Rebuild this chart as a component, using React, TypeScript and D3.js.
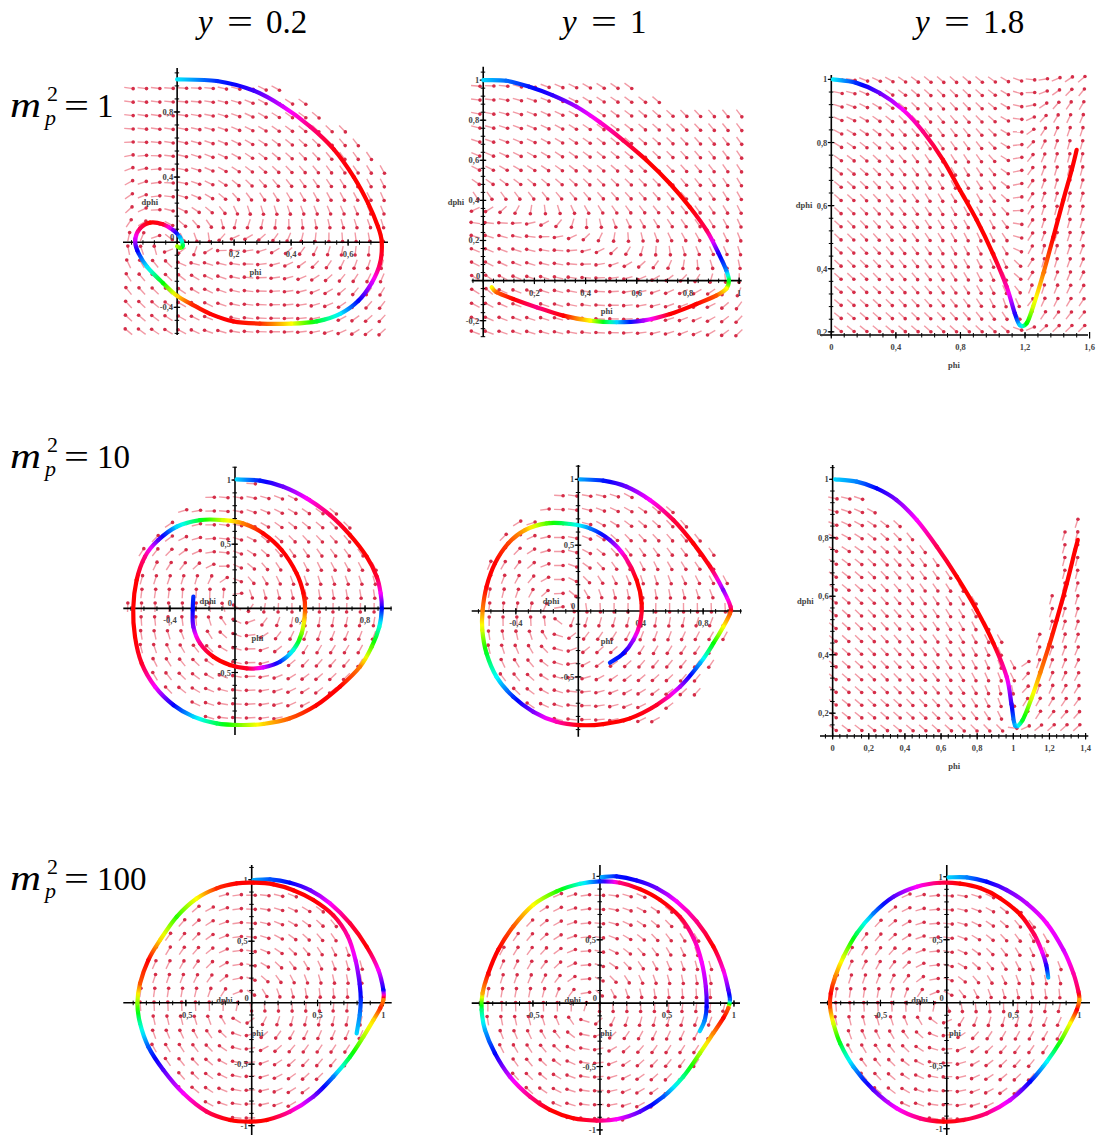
import React from "react";
import * as d3 from "d3";

// phase portraits: phi on x, dphi on y, trajectory hue (deg, unwrapped)
type TrajPoint = [number, number, number];
type XY = [number, number];

const colValues = ["0.2", "1", "1.8"];
const rowValues = ["1", "10", "100"];

// ---- trajectories [phi, dphi, hue] ----
const trajM1Y02: TrajPoint[] = [
  [0.0, 1.0, 185], [0.14, 0.99, 230], [0.27, 0.93, 255], [0.37, 0.835, 290], [0.467, 0.71, 330],
  [0.55, 0.57, 355], [0.62, 0.4, 360], [0.67, 0.24, 360], [0.705, 0.095, 360], [0.718, 0.0, 360],
  [0.712, -0.13, 345], [0.683, -0.25, 290], [0.636, -0.36, 240], [0.572, -0.44, 185], [0.49, -0.486, 130],
  [0.4, -0.5, 60], [0.29, -0.5, 10], [0.197, -0.486, 0], [0.116, -0.44, 0], [0.05, -0.38, 10],
  [0.0, -0.33, 50], [-0.05, -0.25, 120], [-0.106, -0.15, 185], [-0.14, -0.05, 240], [-0.147, 0.02, 290],
  [-0.13, 0.085, 340], [-0.095, 0.12, 360], [-0.05, 0.11, 350], [-0.014, 0.074, 270], [0.01, 0.03, 200],
  [0.02, -0.02, 140], [0.01, -0.035, 100], [0.0, -0.025, 80],
];

const trajM1Y1: TrajPoint[] = [
  [0.0, 1.0, 190], [0.09, 0.997, 215], [0.18, 0.967, 235], [0.27, 0.925, 250], [0.365, 0.867, 280],
  [0.456, 0.79, 310], [0.547, 0.7, 340], [0.638, 0.6, 360], [0.73, 0.483, 360], [0.807, 0.367, 360],
  [0.873, 0.25, 340], [0.918, 0.14, 250], [0.95, 0.05, 210], [0.96, 0.0, 130], [0.95, -0.04, 60],
  [0.91, -0.075, 20], [0.833, -0.117, 0], [0.73, -0.167, 0], [0.625, -0.2, -80], [0.52, -0.208, -170],
  [0.417, -0.2, -300], [0.313, -0.175, -360], [0.208, -0.133, -390], [0.117, -0.092, -360],
  [0.052, -0.058, -340], [0.033, -0.033, -300],
];

const trajM1Y18: TrajPoint[] = [
  [0.01, 1.0, 185], [0.155, 0.989, 230], [0.3, 0.957, 265], [0.444, 0.904, 300], [0.568, 0.835, 330],
  [0.692, 0.745, 355], [0.796, 0.65, 360], [0.9, 0.555, 360], [1.0, 0.449, 360], [1.086, 0.343, 320],
  [1.137, 0.258, 250], [1.168, 0.221, 190], [1.21, 0.227, 120], [1.25, 0.28, 70], [1.313, 0.385, 30],
  [1.375, 0.5, 0], [1.437, 0.618, 0], [1.489, 0.713, 0], [1.52, 0.777, 0],
];

const trajM10Y02: TrajPoint[] = [
  [0.01, 1.005, 190], [0.154, 0.995, 235], [0.297, 0.948, 265], [0.441, 0.857, 300], [0.585, 0.727, 340],
  [0.708, 0.571, 360], [0.81, 0.403, 360], [0.872, 0.247, 350], [0.896, 0.117, 300], [0.903, 0.0, 240],
  [0.888, -0.143, 170], [0.841, -0.299, 100], [0.769, -0.455, 30], [0.646, -0.61, 0], [0.503, -0.753, 0],
  [0.338, -0.857, 20], [0.174, -0.901, 50], [0.031, -0.909, 90], [-0.113, -0.896, 140], [-0.256, -0.844, 190],
  [-0.379, -0.753, 240], [-0.492, -0.61, 300], [-0.574, -0.429, 350], [-0.615, -0.221, 360], [-0.626, 0.0, 360],
  [-0.605, 0.221, 360], [-0.554, 0.403, 330], [-0.472, 0.532, 260], [-0.359, 0.636, 190], [-0.215, 0.688, 130],
  [-0.072, 0.688, 70], [0.051, 0.662, 30], [0.174, 0.584, 0], [0.287, 0.455, 0], [0.379, 0.273, 0],
  [0.421, 0.117, 0], [0.431, -0.013, 20], [0.41, -0.195, 90], [0.359, -0.325, 170], [0.277, -0.416, 230],
  [0.174, -0.46, 290], [0.072, -0.468, 350], [-0.031, -0.442, 360], [-0.133, -0.377, 360], [-0.215, -0.273, 330],
  [-0.256, -0.143, 270], [-0.26, -0.013, 240], [-0.256, 0.091, 230],
];

const trajM10Y1: TrajPoint[] = [
  [0.01, 1.0, 200], [0.16, 0.99, 235], [0.31, 0.944, 265], [0.459, 0.843, 300], [0.609, 0.691, 345],
  [0.737, 0.514, 360], [0.844, 0.337, 355], [0.929, 0.159, 270], [0.976, 0.033, 330], [0.972, -0.018, 380],
  [0.929, -0.119, 420], [0.865, -0.246, 480], [0.78, -0.397, 560], [0.652, -0.575, 640], [0.502, -0.714, 710],
  [0.331, -0.815, 720], [0.16, -0.858, 720], [0.01, -0.866, 720], [-0.139, -0.841, 680], [-0.288, -0.765, 630],
  [-0.417, -0.651, 590], [-0.524, -0.499, 540], [-0.588, -0.322, 490], [-0.615, -0.144, 430], [-0.613, 0.008, 390],
  [-0.588, 0.185, 360], [-0.534, 0.362, 360], [-0.449, 0.514, 375], [-0.342, 0.615, 400], [-0.203, 0.666, 460],
  [-0.053, 0.661, 520], [0.075, 0.628, 570], [0.203, 0.539, 620], [0.299, 0.413, 680], [0.374, 0.235, 720],
  [0.406, 0.058, 720], [0.395, -0.094, 700], [0.353, -0.22, 640], [0.288, -0.322, 600], [0.203, -0.392, 590],
];

const trajM10Y18: TrajPoint[] = [
  [0.013, 1.0, 190], [0.133, 0.992, 210], [0.244, 0.969, 240], [0.354, 0.929, 270], [0.465, 0.861, 300],
  [0.576, 0.77, 340], [0.687, 0.667, 360], [0.797, 0.553, 360], [0.89, 0.439, 360], [0.963, 0.325, 310],
  [0.99, 0.23, 250], [1.01, 0.158, 200], [1.05, 0.175, 130], [1.1, 0.25, 70], [1.15, 0.34, 30],
  [1.2, 0.435, 10], [1.24, 0.519, 0], [1.296, 0.644, 0], [1.342, 0.758, 0], [1.357, 0.793, 0],
];

const trajM100Y02: TrajPoint[] = [
  [0.013, 0.997, 200], [0.139, 1.003, 220], [0.291, 0.976, 240], [0.443, 0.916, 265], [0.595, 0.808, 300],
  [0.747, 0.645, 345], [0.873, 0.455, 360], [0.962, 0.266, 300], [1.0, 0.103, 240], [1.0, 0.022, 390],
  [0.975, -0.046, 370], [0.924, -0.141, 410], [0.848, -0.276, 440], [0.747, -0.439, 490], [0.62, -0.602, 570],
  [0.468, -0.764, 630], [0.291, -0.886, 680], [0.114, -0.954, 720], [-0.013, -0.967, 720], [-0.165, -0.954, 720],
  [-0.342, -0.886, 700], [-0.519, -0.737, 660], [-0.671, -0.547, 620], [-0.785, -0.358, 580], [-0.848, -0.168, 520],
  [-0.868, -0.005, 450], [-0.848, 0.157, 380], [-0.785, 0.347, 360], [-0.696, 0.509, 410], [-0.57, 0.699, 470],
  [-0.418, 0.848, 420], [-0.266, 0.93, 370], [-0.114, 0.97, 360], [0.013, 0.976, 360], [0.165, 0.962, 360],
  [0.316, 0.915, 360], [0.468, 0.835, 360], [0.62, 0.71, 350], [0.73, 0.54, 320], [0.79, 0.34, 290],
  [0.82, 0.15, 255], [0.828, 0.02, 230], [0.82, -0.1, 210], [0.797, -0.249, 190],
];

const trajM100Y1: TrajPoint[] = [
  [0.012, 0.995, 200], [0.124, 1.0, 235], [0.274, 0.968, 245], [0.423, 0.908, 265], [0.572, 0.803, 300],
  [0.721, 0.645, 330], [0.846, 0.447, 360], [0.92, 0.263, 310], [0.958, 0.105, 260], [0.97, 0.026, 220],
  [0.958, -0.039, 20], [0.92, -0.118, 0], [0.846, -0.237, 30], [0.746, -0.395, 80], [0.622, -0.579, 150],
  [0.473, -0.737, 220], [0.299, -0.855, 260], [0.124, -0.916, 300], [-0.025, -0.926, 340], [-0.199, -0.908, 360],
  [-0.373, -0.842, 360], [-0.522, -0.737, 330], [-0.672, -0.579, 290], [-0.784, -0.395, 240], [-0.858, -0.211, 200],
  [-0.883, -0.053, 150], [-0.876, 0.079, 40], [-0.833, 0.237, 0], [-0.759, 0.421, 0], [-0.647, 0.605, 20],
  [-0.498, 0.776, 60], [-0.323, 0.882, 110], [-0.149, 0.942, 170], [0.0, 0.961, 230], [0.149, 0.95, 330],
  [0.299, 0.9, 360], [0.448, 0.815, 360], [0.597, 0.68, 350], [0.7, 0.51, 320], [0.76, 0.32, 300],
  [0.79, 0.13, 280], [0.796, -0.03, 240], [0.78, -0.14, 210], [0.745, -0.22, 190],
];

const trajM100Y18: TrajPoint[] = [
  [0.013, 0.995, 190], [0.151, 0.995, 210], [0.302, 0.96, 240], [0.452, 0.894, 265], [0.603, 0.788, 285],
  [0.754, 0.63, 300], [0.88, 0.418, 290], [0.955, 0.233, 320], [0.993, 0.087, 340], [1.0, 0.021, 400],
  [0.98, -0.058, 360], [0.93, -0.164, 420], [0.855, -0.31, 470], [0.754, -0.468, 540], [0.628, -0.627, 600],
  [0.478, -0.772, 650], [0.302, -0.878, 690], [0.126, -0.931, 710], [-0.025, -0.944, 720], [-0.201, -0.918, 690],
  [-0.377, -0.839, 660], [-0.553, -0.693, 620], [-0.704, -0.508, 560], [-0.804, -0.323, 490], [-0.855, -0.164, 430],
  [-0.88, -0.032, 380], [-0.875, 0.074, 360], [-0.842, 0.206, 390], [-0.779, 0.365, 430], [-0.679, 0.55, 500],
  [-0.553, 0.709, 570], [-0.402, 0.841, 620], [-0.226, 0.921, 660], [-0.05, 0.952, 700], [0.1, 0.945, 720],
  [0.251, 0.91, 720], [0.402, 0.83, 720], [0.553, 0.7, 720], [0.66, 0.54, 700], [0.72, 0.4, 660],
  [0.75, 0.3, 610], [0.765, 0.2, 560],
];

// ---- regions where the direction field is drawn [phi, dphi] ----
const fieldM1Y02: XY[] = [
  [-0.2, 0.97], [0.34, 0.97], [0.42, 0.89], [0.5, 0.81], [0.57, 0.72], [0.63, 0.63], [0.7, 0.54],
  [0.75, 0.46], [0.75, -0.6], [-0.2, -0.6],
];
const fieldM1Y1: XY[] = [
  [-0.05, 0.98], [0.55, 0.98], [0.75, 0.89], [1.02, 0.84], [1.02, -0.3], [-0.05, -0.3],
];
const fieldM1Y18: XY[] = [[0, 0.2], [0, 1.02], [1.6, 1.02], [1.6, 0.2]];
const fieldM10Y02: XY[] = [
  [0.91, 0.03], [0.85, 0.39], [0.68, 0.7], [0.42, 0.91], [0.12, 0.98], [-0.18, 0.91], [-0.44, 0.7],
  [-0.61, 0.39], [-0.67, 0.03], [-0.61, -0.33], [-0.44, -0.64], [-0.18, -0.85], [0.12, -0.92],
  [0.42, -0.85], [0.68, -0.64], [0.85, -0.33],
];
const fieldM10Y1: XY[] = [
  [0.99, 0.02], [0.93, 0.38], [0.75, 0.68], [0.48, 0.88], [0.17, 0.95], [-0.14, 0.88], [-0.41, 0.68],
  [-0.59, 0.38], [-0.65, 0.02], [-0.59, -0.34], [-0.41, -0.64], [-0.14, -0.84], [0.17, -0.91],
  [0.48, -0.84], [0.75, -0.64], [0.93, -0.34],
];
const fieldM10Y18: XY[] = [
  [-0.01, 0.98], [0.1, 0.965], [0.2, 0.925], [0.3, 0.88], [0.4, 0.83], [0.5, 0.78], [0.6, 0.715],
  [0.7, 0.655], [0.8, 0.585], [0.9, 0.5], [1.0, 0.39], [1.08, 0.375], [1.15, 0.48], [1.2, 0.57],
  [1.25, 0.72], [1.3, 0.87], [1.38, 0.9], [1.38, 0.1], [-0.01, 0.1],
];
const fieldM100: XY[] = [
  [0, 0.95], [0.3, 0.9], [0.55, 0.76], [0.76, 0.5], [0.9, 0.22], [0.94, 0], [0.88, -0.26], [0.72, -0.52],
  [0.5, -0.76], [0.25, -0.9], [0, -0.96], [-0.3, -0.9], [-0.55, -0.7], [-0.74, -0.42], [-0.85, -0.12],
  [-0.85, 0.15], [-0.76, 0.42], [-0.56, 0.7], [-0.3, 0.88],
];

// ---- tick labels ----
const ticksXM1Y02 = [0.2, 0.4, 0.6];
const ticksYM1Y02 = [-0.4, 0.4, 0.8];
const ticksXM1Y1 = [0.2, 0.4, 0.6, 0.8, 1];
const ticksYM1Y1 = [-0.2, 0.2, 0.4, 0.6, 0.8, 1];
const ticksXM1Y18 = [0, 0.4, 0.8, 1.2, 1.6];
const ticksYCol3 = [0.2, 0.4, 0.6, 0.8, 1];
const ticksXM10 = [-0.4, 0.4, 0.8];
const ticksYM10 = [-0.5, 0.5, 1];
const ticksXM10Y18 = [0, 0.2, 0.4, 0.6, 0.8, 1, 1.2, 1.4];
const ticksXM100 = [-0.5, 0.5, 1];
const ticksYM100 = [-1, -0.5, 0.5, 1];

const panels = [
  { id: "a", traj: trajM1Y02, field: fieldM1Y02, xDom: [-0.19, 0.74], xPx: [123, 388], yDom: [-0.57, 1.07], yPx: [335, 68], axisAt: 0, grid: [-0.17, 0.72, -0.55, 1.03], xt: ticksXM1Y02, yt: ticksYM1Y02, xm: 0.04, ym: 0.08 },
  { id: "b", traj: trajM1Y1, field: fieldM1Y1, xDom: [-0.045, 1.01], xPx: [471.7, 741.7], yDom: [-0.28, 1.067], yPx: [336.7, 66.7], axisAt: 0, grid: [-0.03, 1.0, -0.26, 1.04], xt: ticksXM1Y1, yt: ticksYM1Y1, xm: 0.04, ym: 0.04 },
  { id: "c", traj: trajM1Y18, field: fieldM1Y18, xDom: [-0.07, 1.59], xPx: [820, 1088], yDom: [0.19, 1.014], yPx: [335, 75], axisAt: 0.19, grid: [0.04, 1.55, 0.21, 1.0], xt: ticksXM1Y18, yt: ticksYCol3, xm: 0.08, ym: 0.04 },
  { id: "d", traj: trajM10Y02, field: fieldM10Y02, xDom: [-0.687, 0.964], xPx: [123.3, 391.7], yDom: [-0.987, 1.104], yPx: [735, 466.7], axisAt: 0, grid: [-0.66, 0.94, -0.96, 1.08], xt: ticksXM10, yt: ticksYM10, xm: 0.08, ym: 0.1 },
  { id: "e", traj: trajM10Y1, field: fieldM10Y1, xDom: [-0.683, 1.047], xPx: [471.7, 741.7], yDom: [-0.954, 1.109], yPx: [736.7, 465], axisAt: 0, grid: [-0.66, 1.03, -0.93, 1.09], xt: ticksXM10, yt: ticksYM10, xm: 0.08, ym: 0.1 },
  { id: "f", traj: trajM10Y18, field: fieldM10Y18, xDom: [-0.07, 1.415], xPx: [820, 1088.3], yDom: [0.122, 1.049], yPx: [736, 465], axisAt: 0.122, grid: [0, 1.35, 0.15, 0.98], xt: ticksXM10Y18, yt: ticksYCol3, xm: 0.04, ym: 0.04 },
  { id: "g", traj: trajM100Y02, field: fieldM100, xDom: [-0.975, 1.063], xPx: [123.3, 391.7], yDom: [-1.076, 1.12], yPx: [1135, 865], axisAt: 0, grid: [-0.95, 1.04, -1.05, 1.1], xt: ticksXM100, yt: ticksYM100, xm: 0.1, ym: 0.1 },
  { id: "h", traj: trajM100Y1, field: fieldM100, xDom: [-0.957, 1.045], xPx: [471.7, 740], yDom: [-1.04, 1.09], yPx: [1135, 865], axisAt: 0, grid: [-0.94, 1.03, -1.02, 1.07], xt: ticksXM100, yt: ticksYM100, xm: 0.1, ym: 0.1 },
  { id: "i", traj: trajM100Y18, field: fieldM100, xDom: [-0.956, 1.08], xPx: [820, 1090], yDom: [-1.05, 1.093], yPx: [1135, 865], axisAt: 0, grid: [-0.94, 1.06, -1.03, 1.07], xt: ticksXM100, yt: ticksYM100, xm: 0.1, ym: 0.1 },
];

const hueColor = (h: number) => d3.hsl(((h % 360) + 360) % 360, 1, 0.5).formatHex();
const fmt = (v: number) => String(+v.toFixed(2)).replace(".", ",");
const smallFont = "'Liberation Serif', serif";

function tickValues(dom: number[], step: number) {
  const a = Math.ceil(dom[0] / step - 1e-9), b = Math.floor(dom[1] / step + 1e-9);
  return d3.range(a, b + 1).map((k) => +(k * step).toFixed(4));
}

function Panel({ p }: { p: any }) {
  const x = d3.scaleLinear().domain(p.xDom).range(p.xPx);
  const y = d3.scaleLinear().domain(p.yDom).range(p.yPx);
  const ax = x(0);
  const ay = y(p.axisAt);

  const pts = p.traj.map(([a, b, h]: TrajPoint) => ({ x: x(a), y: y(b), h }));
  const segs = d3.range(pts.length - 1).map((k) => {
    const A = pts[k], B = pts[k + 1];
    const dx = B.x - A.x, dy = B.y - A.y, len = Math.hypot(dx, dy) || 1;
    return { mx: (A.x + B.x) / 2, my: (A.y + B.y) / 2, tx: dx / len, ty: dy / len, len };
  });

  // direction field: arrows follow the flow of the nearby trajectory
  const gi = d3.scaleLinear().domain([0, 19]).range([p.grid[0], p.grid[1]]);
  const gj = d3.scaleLinear().domain([0, 19]).range([p.grid[2], p.grid[3]]);
  const arrows: any[] = [];
  d3.range(20).forEach((i) =>
    d3.range(20).forEach((j) => {
      const phi = gi(i), dphi = gj(j);
      if (!d3.polygonContains(p.field, [phi, dphi])) return;
      const cx = x(phi), cy = y(dphi);
      let vx = 0, vy = 0;
      segs.forEach((s) => {
        const d = Math.hypot(cx - s.mx, cy - s.my) + 4;
        const w = s.len / (d * d * d);
        vx += w * s.tx;
        vy += w * s.ty;
      });
      const n = Math.hypot(vx, vy) || 1;
      arrows.push({ key: `${i}-${j}`, cx, cy, ux: vx / n, uy: vy / n });
    })
  );
  const L = 9;

  const xMinor = tickValues(p.xDom, p.xm);
  const yMinor = tickValues(p.yDom, p.ym);

  return (
    <g>
      <defs>
        {segs.map((_, k) => {
          const A = pts[k], B = pts[k + 1];
          return (
            <linearGradient key={k} id={`${p.id}g${k}`} gradientUnits="userSpaceOnUse" x1={A.x} y1={A.y} x2={B.x} y2={B.y}>
              {[0, 0.25, 0.5, 0.75, 1].map((t) => (
                <stop key={t} offset={t} stopColor={hueColor(A.h + (B.h - A.h) * t)} />
              ))}
            </linearGradient>
          );
        })}
      </defs>

      <g>
        {arrows.map((a) => (
          <g key={a.key}>
            <line x1={a.cx - (a.ux * L) / 2} y1={a.cy - (a.uy * L) / 2} x2={a.cx + (a.ux * L) / 2} y2={a.cy + (a.uy * L) / 2} stroke="#f29aa5" strokeWidth={1.4} />
            <circle cx={a.cx + (a.ux * L) / 2} cy={a.cy + (a.uy * L) / 2} r={1.8} fill="#d52d48" />
          </g>
        ))}
      </g>

      <g stroke="#000">
        <line x1={p.xPx[0]} x2={p.xPx[1]} y1={ay} y2={ay} strokeWidth={1.6} />
        <line x1={ax} x2={ax} y1={p.yPx[0]} y2={p.yPx[1]} strokeWidth={1.6} />
        {xMinor.map((v) => (
          <line key={`xm${v}`} x1={x(v)} x2={x(v)} y1={ay - 2} y2={ay + 2.5} strokeWidth={1} />
        ))}
        {yMinor.map((v) => (
          <line key={`ym${v}`} x1={ax - 2.5} x2={ax + 2} y1={y(v)} y2={y(v)} strokeWidth={1} />
        ))}
        {p.xt.map((v: number) => (
          <line key={`xM${v}`} x1={x(v)} x2={x(v)} y1={ay - 3} y2={ay + 3.5} strokeWidth={1.2} />
        ))}
        {p.yt.map((v: number) => (
          <line key={`yM${v}`} x1={ax - 3.5} x2={ax + 3} y1={y(v)} y2={y(v)} strokeWidth={1.2} />
        ))}
      </g>

      <g fontFamily={smallFont} fontSize={8.5} fontWeight="bold" fill="#444">
        {p.xt.map((v: number) => (
          <text key={`xl${v}`} x={x(v)} y={ay + 15} textAnchor="middle">{fmt(v)}</text>
        ))}
        {p.yt.map((v: number) => (
          <text key={`yl${v}`} x={ax - 4} y={y(v) + 3} textAnchor="end">{fmt(v)}</text>
        ))}
        {p.axisAt === 0 && (
          <text x={ax - 3} y={ay - 2} textAnchor="end">0</text>
        )}
        <text x={(p.xPx[0] + p.xPx[1]) / 2} y={ay + 33} textAnchor="middle">phi</text>
        <text x={ax - 19} y={(p.yPx[0] + p.yPx[1]) / 2 + 3} textAnchor="end">dphi</text>
      </g>

      <g fill="none" strokeWidth={4.2} strokeLinecap="round">
        {segs.map((_, k) => {
          const P0 = pts[Math.max(k - 1, 0)], P1 = pts[k], P2 = pts[k + 1], P3 = pts[Math.min(k + 2, pts.length - 1)];
          const c1x = P1.x + (P2.x - P0.x) / 6, c1y = P1.y + (P2.y - P0.y) / 6;
          const c2x = P2.x - (P3.x - P1.x) / 6, c2y = P2.y - (P3.y - P1.y) / 6;
          return (
            <path key={k} d={`M${P1.x},${P1.y}C${c1x},${c1y} ${c2x},${c2y} ${P2.x},${P2.y}`} stroke={`url(#${p.id}g${k})`} />
          );
        })}
      </g>
    </g>
  );
}

const headFont = "'Liberation Serif', 'DejaVu Serif', serif";
const colX = [198, 562, 915];
const rowBase = [117, 468, 890];

export default function App() {
  return (
    <svg width={1098} height={1137} viewBox="0 0 1098 1137" style={{ position: "absolute", left: 0, top: 0, background: "#fff" }}>
      <rect width={1098} height={1137} fill="#fff" />
      {panels.map((p) => (
        <Panel key={p.id} p={p} />
      ))}

      <g fontFamily={headFont} fontSize={33} fill="#000">
        {colValues.map((v, i) => (
          <g key={v}>
            <text x={colX[i]} y={33} fontStyle="italic">y</text>
            <text x={colX[i] + 29} y={33} textLength={26} lengthAdjust="spacingAndGlyphs">=</text>
            <text x={colX[i] + 68} y={33}>{v}</text>
          </g>
        ))}
        {rowValues.map((v, i) => (
          <g key={v}>
            <text x={10} y={rowBase[i]} fontStyle="italic" fontSize={35} textLength={31} lengthAdjust="spacingAndGlyphs">m</text>
            <text x={47} y={rowBase[i] - 16} fontSize={22}>2</text>
            <text x={45} y={rowBase[i] + 8} fontSize={22} fontStyle="italic">p</text>
            <text x={64} y={rowBase[i]} textLength={25} lengthAdjust="spacingAndGlyphs">=</text>
            <text x={97} y={rowBase[i]}>{v}</text>
          </g>
        ))}
      </g>
    </svg>
  );
}
